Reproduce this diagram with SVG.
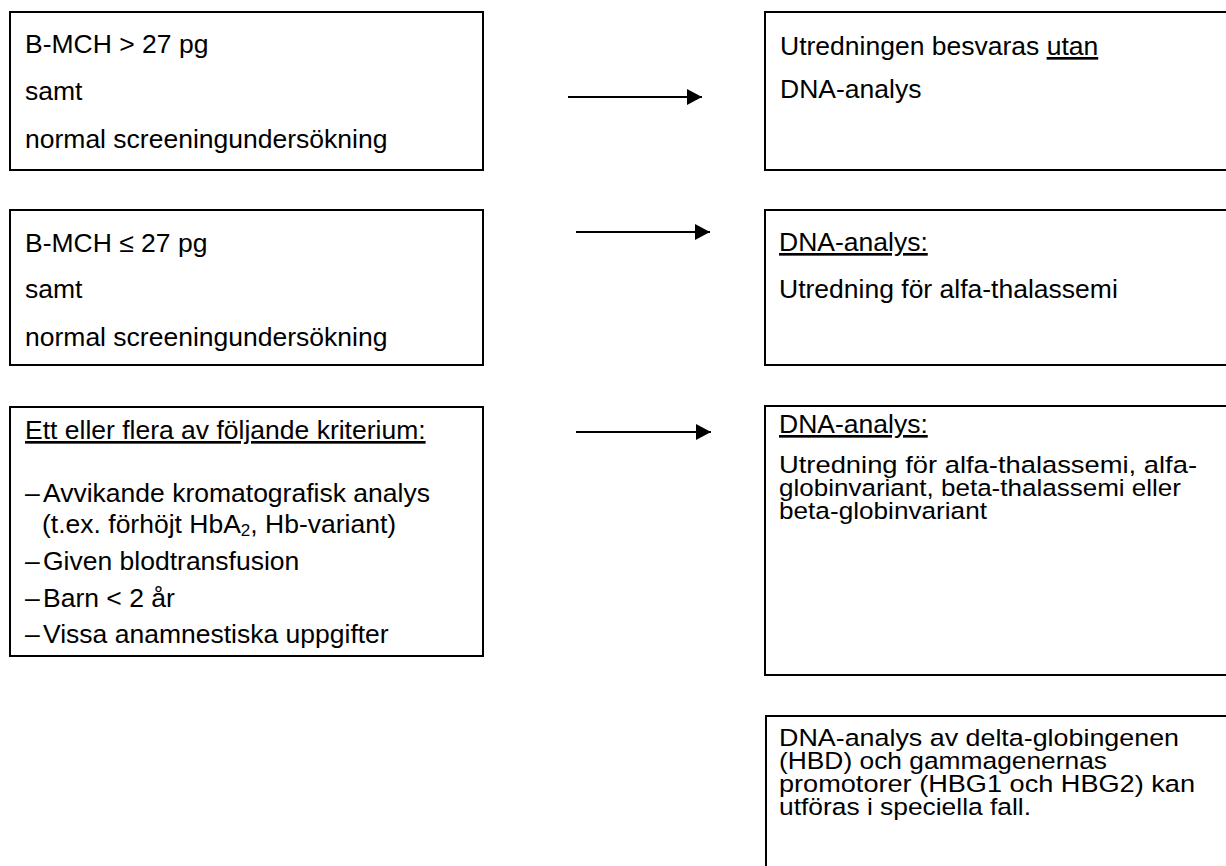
<svg xmlns="http://www.w3.org/2000/svg" width="1226" height="866" viewBox="0 0 1226 866">
<style>
  .box { fill: #ffffff; stroke: #000000; stroke-width: 2; }
  .t { font-family: "Liberation Sans", Arial, sans-serif; font-size: 26.5px; fill: #000000; }
  .s { font-size: 24.5px; }
  .u { text-decoration: underline; }
  .conn { stroke: #000000; stroke-width: 2; fill: none; }
</style>
<defs>
  <marker id="arrow" markerWidth="16" markerHeight="16" refX="15" refY="8" orient="auto" markerUnits="userSpaceOnUse">
    <path d="M0,0 L15,8 L0,16 Z" fill="#000000"/>
  </marker>
</defs>
<rect width="1226" height="866" fill="#ffffff"/>

<g id="left1">
  <rect class="box" x="10" y="12" width="473" height="158"/>
  <text class="t" x="25" y="53">B-MCH &gt; 27 pg</text>
  <text class="t" x="25" y="100">samt</text>
  <text class="t" x="25" y="148">normal screeningundersökning</text>
</g>

<g id="left2">
  <rect class="box" x="10" y="210" width="473" height="155"/>
  <text class="t" x="25" y="252">B-MCH ≤ 27 pg</text>
  <text class="t" x="25" y="298">samt</text>
  <text class="t" x="25" y="346">normal screeningundersökning</text>
</g>

<g id="left3">
  <rect class="box" x="10" y="407" width="473" height="249"/>
  <text class="t" x="25" y="439"><tspan class="u">Ett eller flera av följande kriterium:</tspan></text>
  <text class="t" y="502"><tspan x="25">–</tspan><tspan x="43">Avvikande kromatografisk analys</tspan></text>
  <text class="t" x="42" y="533">(t.ex. förhöjt HbA<tspan font-size="17" dy="3">2</tspan><tspan dy="-3">, Hb-variant)</tspan></text>
  <text class="t" y="570"><tspan x="25">–</tspan><tspan x="43">Given blodtransfusion</tspan></text>
  <text class="t" y="607"><tspan x="25">–</tspan><tspan x="43">Barn &lt; 2 år</tspan></text>
  <text class="t" y="643"><tspan x="25">–</tspan><tspan x="43">Vissa anamnestiska uppgifter</tspan></text>
</g>

<g id="right1">
  <rect class="box" x="765" y="12" width="471" height="158"/>
  <text class="t" x="780" y="55">Utredningen besvaras <tspan class="u">utan</tspan></text>
  <text class="t" x="780" y="98">DNA-analys</text>
</g>

<g id="right2">
  <rect class="box" x="765" y="210" width="471" height="155"/>
  <text class="t" x="779" y="251"><tspan class="u">DNA-analys:</tspan></text>
  <text class="t" x="779" y="298">Utredning för alfa-thalassemi</text>
</g>

<g id="right3">
  <rect class="box" x="765" y="406" width="471" height="269"/>
  <text class="t" x="779" y="433"><tspan class="u">DNA-analys:</tspan></text>
  <text class="t s" x="779" y="473" textLength="418" lengthAdjust="spacingAndGlyphs">Utredning för alfa-thalassemi, alfa-</text>
  <text class="t s" x="779" y="496" textLength="402" lengthAdjust="spacingAndGlyphs">globinvariant, beta-thalassemi eller</text>
  <text class="t s" x="779" y="519" textLength="208" lengthAdjust="spacingAndGlyphs">beta-globinvariant</text>
</g>

<g id="right4">
  <rect class="box" x="766" y="716" width="470" height="170"/>
  <text class="t s" x="779" y="746" textLength="400" lengthAdjust="spacingAndGlyphs">DNA-analys av delta-globingenen</text>
  <text class="t s" x="779" y="769" textLength="328" lengthAdjust="spacingAndGlyphs">(HBD) och gammagenernas</text>
  <text class="t s" x="779" y="792" textLength="416" lengthAdjust="spacingAndGlyphs">promotorer (HBG1 och HBG2) kan</text>
  <text class="t s" x="779" y="815" textLength="252" lengthAdjust="spacingAndGlyphs">utföras i speciella fall.</text>
</g>

<g id="connectors">
  <line class="conn" x1="568" y1="97" x2="702" y2="97" marker-end="url(#arrow)"/>
  <line class="conn" x1="576" y1="232" x2="710" y2="232" marker-end="url(#arrow)"/>
  <line class="conn" x1="576" y1="432" x2="711" y2="432" marker-end="url(#arrow)"/>
</g>
</svg>
